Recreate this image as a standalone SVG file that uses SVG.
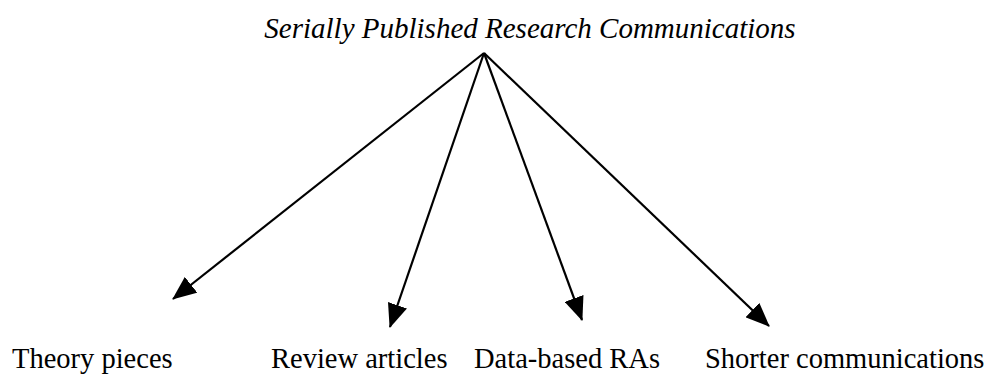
<svg xmlns="http://www.w3.org/2000/svg" width="988" height="377" viewBox="0 0 988 377">
  <style>
    .title { font-family: "Liberation Serif", "Times New Roman", serif; font-style: italic; font-size: 29px; fill: #000; }
    .label { font-family: "Liberation Serif", "Times New Roman", serif; font-size: 28.5px; fill: #000; }
    .edge { stroke: #000; stroke-width: 2.2; fill: none; marker-end: url(#arrow); }
  </style>
  <defs>
    <!-- filled triangular arrowhead, tip at the line end -->
    <marker id="arrow" viewBox="0 0 24 20" refX="23" refY="10" markerWidth="24" markerHeight="20" markerUnits="userSpaceOnUse" orient="auto">
      <path d="M0,0 L24,10 L0,20 z" fill="#000"/>
    </marker>
  </defs>
  <rect width="988" height="377" fill="#fff"/>

  <g id="root">
    <text class="title" x="530" y="38" text-anchor="middle">Serially Published Research Communications</text>
  </g>

  <g id="connectors">
    <line class="edge" x1="484" y1="53" x2="173" y2="299"/>
    <line class="edge" x1="484" y1="53" x2="390" y2="327"/>
    <line class="edge" x1="484" y1="53" x2="582" y2="320"/>
    <line class="edge" x1="484" y1="53" x2="769" y2="326"/>
  </g>

  <g id="theory">
    <text class="label" x="12" y="368">Theory pieces</text>
  </g>
  <g id="review">
    <text class="label" x="271" y="368">Review articles</text>
  </g>
  <g id="data">
    <text class="label" x="474" y="368">Data-based RAs</text>
  </g>
  <g id="shorter">
    <text class="label" x="705" y="368">Shorter communications</text>
  </g>
</svg>
